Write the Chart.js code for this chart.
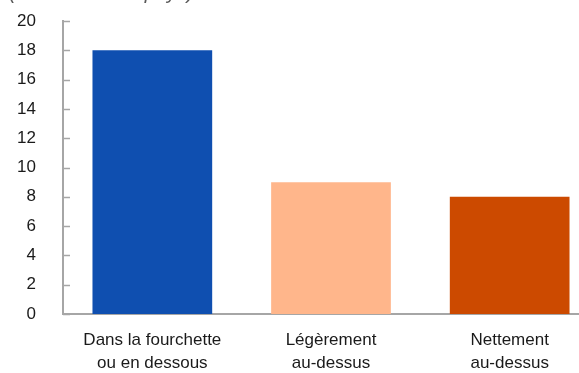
<!DOCTYPE html>
<html lang="fr">
<head>
    <meta charset="UTF-8">
    <title>Inflation prévue</title>
    <style>
        html, body { margin: 0; padding: 0; overflow: hidden; background: #fff; }
        #wrap { width: 599px; height: 373px; position: relative; }
    </style>
</head>
<body>
    <div id="wrap"><canvas id="chart"></canvas></div>
    <script src="https://cdn.jsdelivr.net/npm/chart.js"></script>
    <script>
        // categories and values
        const categories = [
            ['Dans la fourchette', 'ou en dessous'],
            ['Légèrement', 'au-dessus'],
            ['Nettement', 'au-dessus']
        ];
        const values = [18, 9, 8];
        const barColors = ['#0f4fb0', '#ffb68b', '#cc4a00'];
        const yTicks = [0, 2, 4, 6, 8, 10, 12, 14, 16, 18, 20];
        const subtitle = '(en nombre de pays)';

        const labelFont = { family: '"Liberation Sans", Arial, sans-serif', size: 17, lineHeight: 1.35 };

        // small inward tick marks on the y axis + cut-off unit line at the top
        const decor = {
            id: 'decor',
            afterDraw(chart) {
                const ctx = chart.ctx;
                const y = chart.scales.y;
                const x0 = chart.chartArea.left;
                ctx.save();
                ctx.strokeStyle = '#a6a6a6';
                ctx.lineWidth = 1.5;
                yTicks.forEach(v => {
                    const py = Math.round(y.getPixelForValue(v)) + 0.5;
                    ctx.beginPath();
                    ctx.moveTo(x0, py);
                    ctx.lineTo(x0 + 7, py);
                    ctx.stroke();
                });
                ctx.fillStyle = '#595959';
                ctx.font = 'italic 20px "Liberation Sans", Arial, sans-serif';
                ctx.textBaseline = 'alphabetic';
                ctx.fillText(subtitle, 9, -1.5);
                ctx.restore();
            }
        };

        new Chart(document.getElementById('chart'), {
            type: 'bar',
            data: {
                labels: categories,
                datasets: [{
                    data: values,
                    backgroundColor: barColors,
                    categoryPercentage: 1,
                    barPercentage: 0.67
                }]
            },
            options: {
                responsive: true,
                maintainAspectRatio: false,
                animation: false,
                layout: { padding: { top: 21, right: 0, left: 0, bottom: 0 } },
                plugins: {
                    legend: { display: false },
                    tooltip: { enabled: false }
                },
                scales: {
                    x: {
                        afterFit(scale) {
                            scale.height = 59;
                            scale.paddingLeft = 0;
                            scale.paddingRight = 0;
                        },
                        grid: { display: false },
                        border: { color: '#a6a6a6', width: 2 },
                        ticks: {
                            color: '#1a1a1a',
                            font: labelFont,
                            padding: 7,
                            maxRotation: 0
                        }
                    },
                    y: {
                        min: 0,
                        max: 20,
                        afterBuildTicks(scale) {
                            scale.ticks = yTicks.map(v => ({ value: v }));
                        },
                        afterFit(scale) {
                            scale.width = 63;
                            scale.paddingTop = 0;
                            scale.paddingBottom = 0;
                        },
                        grid: { display: false },
                        border: { color: '#a6a6a6', width: 2 },
                        ticks: {
                            color: '#1a1a1a',
                            font: labelFont,
                            padding: 19
                        }
                    }
                }
            },
            plugins: [decor]
        });
    </script>
</body>
</html>
